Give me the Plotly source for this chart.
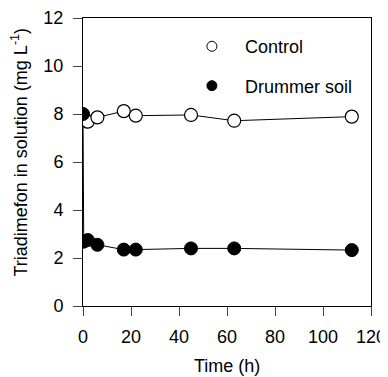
import plotly.graph_objects as go

control_time = [0, 2, 6, 17, 22, 45, 63, 112]
control_conc = [7.9, 7.68, 7.86, 8.12, 7.93, 7.96, 7.72, 7.89]

drummer_time = [0, 0.3, 2, 6, 17, 22, 45, 63, 112]
drummer_conc = [8.0, 2.68, 2.75, 2.55, 2.35, 2.35, 2.4, 2.4, 2.33]

x_ticks = [0, 20, 40, 60, 80, 100, 120]
y_ticks = [0, 2, 4, 6, 8, 10, 12]

x_title = "Time (h)"
y_title = "Triadimefon in solution (mg L<sup>-1</sup>)"

FONT = "Liberation Sans, Arial, sans-serif"

fig = go.Figure()
# connecting lines
fig.add_trace(go.Scatter(x=control_time, y=control_conc, mode="lines",
                         line=dict(color="black", width=1), showlegend=False, hoverinfo="skip"))
fig.add_trace(go.Scatter(x=drummer_time, y=drummer_conc, mode="lines",
                         line=dict(color="black", width=1), showlegend=False, hoverinfo="skip"))
# markers
fig.add_trace(go.Scatter(x=control_time, y=control_conc, mode="markers", showlegend=False,
                         marker=dict(symbol="circle", size=13, color="white",
                                     line=dict(color="black", width=1.2))))
fig.add_trace(go.Scatter(x=drummer_time, y=drummer_conc, mode="markers", showlegend=False,
                         marker=dict(symbol="circle", size=13, color="black",
                                     line=dict(color="black", width=1))))
# legend entries (smaller symbols, as in the reference legend)
fig.add_trace(go.Scatter(x=[None], y=[None], mode="markers", name="Control",
                         legendgroup="a", legendrank=1,
                         marker=dict(symbol="circle", size=10, color="white",
                                     line=dict(color="black", width=1))))
fig.add_trace(go.Scatter(x=[None], y=[None], mode="markers", name="Drummer soil",
                         legendgroup="b", legendrank=2,
                         marker=dict(symbol="circle", size=10, color="black",
                                     line=dict(color="black", width=1))))

fig.update_layout(
    width=380, height=369,
    margin=dict(l=75, r=17, t=10, b=71),
    paper_bgcolor="white", plot_bgcolor="white",
    font=dict(family=FONT, size=18, color="black"),
    legend=dict(x=0.333, y=0.965, xanchor="left", yanchor="top",
                traceorder="grouped", tracegroupgap=13, itemwidth=56,
                bgcolor="rgba(0,0,0,0)", font=dict(size=18)),
    xaxis=dict(range=[0, 120], tickvals=x_ticks, ticks="outside", ticklen=9,
               ticklabelstandoff=5,
               showline=True, linecolor="black", linewidth=1, mirror=True,
               showgrid=False, zeroline=False, automargin=False,
               tickfont=dict(size=18)),
    yaxis=dict(range=[0, 12], tickvals=y_ticks, ticks="outside", ticklen=9,
               ticklabelstandoff=6,
               showline=True, linecolor="black", linewidth=1, mirror=True,
               showgrid=False, zeroline=False, automargin=False,
               tickfont=dict(size=18)),
    annotations=[
        dict(text=x_title, xref="paper", yref="paper", x=0.5, y=-0.208,
             xanchor="center", yanchor="middle", showarrow=False, font=dict(size=18)),
        dict(text=y_title, xref="paper", yref="paper", x=-0.219, y=0.536,
             xanchor="center", yanchor="middle", textangle=-90, showarrow=False,
             font=dict(size=18)),
    ],
)

fig.write_html("out.html")
